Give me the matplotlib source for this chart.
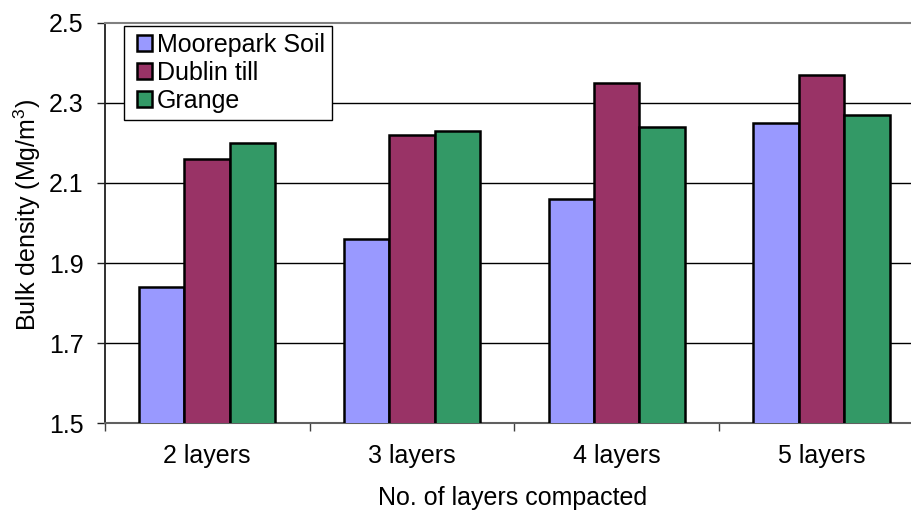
import matplotlib
matplotlib.use("Agg")
import matplotlib.pyplot as plt
from matplotlib.patches import Rectangle
from matplotlib.legend_handler import HandlerPatch
import numpy as np

categories = ["2 layers", "3 layers", "4 layers", "5 layers"]
series_names = ["Moorepark Soil", "Dublin till", "Grange"]
moorepark = [1.84, 1.96, 2.06, 2.25]
dublin = [2.16, 2.22, 2.35, 2.37]
grange = [2.20, 2.23, 2.24, 2.27]
colors = ["#9999FF", "#993366", "#339966"]
yticks = [1.5, 1.7, 1.9, 2.1, 2.3, 2.5]

plt.rcParams["font.family"] = ["Liberation Sans", "DejaVu Sans"]
plt.rcParams["mathtext.fontset"] = "custom"
plt.rcParams["mathtext.rm"] = "Liberation Sans"
plt.rcParams["mathtext.it"] = "Liberation Sans:italic"
plt.rcParams["mathtext.default"] = "regular"

FS = 18
fig = plt.figure(figsize=(9.12, 5.13), dpi=100)
W, H = 912, 513
left, right, top, bottom = 104.7, 924.0, 22.7, 423.3
ax = fig.add_axes([left / W, 1 - bottom / H, (right - left) / W, (bottom - top) / H])

x = np.arange(len(categories))
bw = 0.222
for i, (vals, name) in enumerate(zip([moorepark, dublin, grange], series_names)):
    ax.bar(x + (i - 1) * bw, vals, width=bw, color=colors[i], edgecolor="black",
           linewidth=1.8, label=name, zorder=3)

ax.set_xlim(-0.5, len(categories) - 0.5)
ax.set_ylim(1.5, 2.5)
ax.set_yticks(yticks)
ax.set_yticklabels([f"{v:.1f}" for v in yticks], fontsize=FS)
ax.set_xticks(x)
ax.set_xticklabels(categories, fontsize=FS)
ax.set_xticks(np.arange(len(categories) + 1) - 0.5, minor=True)
ax.tick_params(axis="x", which="major", length=0, pad=15)
ax.tick_params(axis="x", which="minor", length=5.5, width=1, color="#404040")
ax.tick_params(axis="y", length=5.5, width=1, pad=9.5, color="#202020")

for yv in yticks[1:-1]:
    ax.axhline(yv, color="black", linewidth=1.0, zorder=1)

ax.spines["top"].set_color("#808080")
ax.spines["top"].set_linewidth(1.5)
ax.spines["right"].set_visible(False)
ax.spines["left"].set_color("#202020")
ax.spines["left"].set_linewidth(1.3)
ax.spines["bottom"].set_color("#606060")
ax.spines["bottom"].set_linewidth(1.5)

ax.set_ylabel("Bulk density (Mg/m$^3$)", fontsize=FS)
ax.yaxis.set_label_coords(-0.075, 0.52)
ax.set_xlabel("No. of layers compacted", fontsize=FS)
ax.xaxis.set_label_coords(0.498, -0.157)


def square_patch(legend, orig_handle, xdescent, ydescent, width, height, fontsize):
    side = 15.0 * 72 / 100  # points
    hgt = 16.0 * 72 / 100
    return Rectangle((width - side - xdescent, -ydescent + (height - hgt) / 2), side, hgt)


proxies = [Rectangle((0, 0), 1, 1, facecolor=c, edgecolor="black", linewidth=1.8)
           for c in colors]
handler = HandlerPatch(patch_func=square_patch)
leg = ax.legend(proxies, series_names, loc="upper left",
                bbox_to_anchor=(0.0236, 0.992), borderaxespad=0,
                fontsize=FS, frameon=True, fancybox=False, framealpha=1,
                edgecolor="black", handlelength=0.82, handleheight=0.65,
                handletextpad=0.2, labelspacing=0.16, borderpad=0.28,
                handler_map={Rectangle: handler})
leg.get_frame().set_linewidth(1.0)
leg.set_zorder(5)

fig.savefig("out.png", dpi=100)
